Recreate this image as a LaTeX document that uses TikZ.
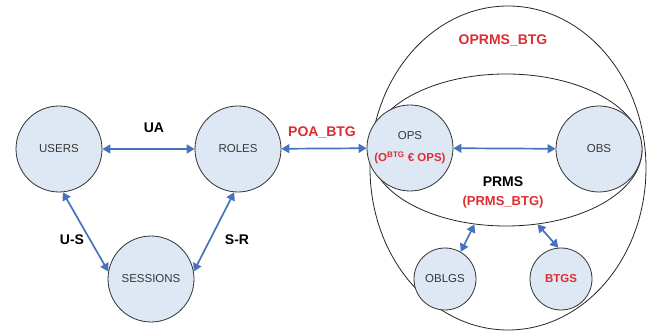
\documentclass[tikz,border=0pt]{standalone}
\usepackage{fontspec}
\setmainfont{Liberation Sans}
\usetikzlibrary{arrows.meta,shapes.geometric}
\definecolor{linkblue}{RGB}{70,115,190}
\definecolor{entfill}{RGB}{222,231,244}
\definecolor{btgred}{RGB}{222,45,50}
\definecolor{enttext}{RGB}{55,55,55}
\begin{document}
\begin{tikzpicture}[x=1pt,y=-1pt,
  ent/.style={circle,draw=black!80,line width=.8pt,fill=entfill,inner sep=0pt,
    minimum size=86pt,text=enttext,font=\fontsize{11.5}{13}\selectfont},
  subent/.style={ent,minimum size=62pt},
  set/.style={ellipse,draw=black!85,line width=.8pt,inner sep=0pt},
  link/.style={linkblue,line width=1.7pt,{Triangle[width=9pt,length=8pt]}-{Triangle[width=9pt,length=8pt]}},
  lbl/.style={font=\bfseries\fontsize{14}{16}\selectfont},
  redlbl/.style={lbl,text=btgred}]
\useasboundingbox (0,0) rectangle (654,331);
\node[set,minimum width=276pt,minimum height=324pt] (oprms) at (508,168) {};
\node[set,minimum width=272pt,minimum height=152pt] (prms) at (506,150) {};
\node[ent] (users) at (59,149) {USERS};
\node[ent] (roles) at (238,149) {ROLES};
\node[ent] (sessions) at (151,279) {SESSIONS};
\node[ent,align=center] (ops) at (410,148) {OPS\\[9pt]{\color{btgred}\bfseries\fontsize{11.5}{13}\selectfont(O\textsuperscript{BTG} € OPS)}};
\node[ent] (obs) at (599,149) {OBS};
\node[subent] (oblgs) at (445,279) {OBLGS};
\node[subent,font=\bfseries\fontsize{11.5}{13}\selectfont,text=btgred] (btgs) at (561,279) {BTGS};
\draw[link] (users) -- (roles);
\draw[link] (roles) -- (ops);
\draw[link] (ops) -- (obs);
\draw[link] (users.-85) -- (sessions.170);
\draw[link] (sessions.10) -- (roles.-95);
\draw[link] (oblgs.60) -- (prms.-113);
\draw[link] (btgs.95) -- (prms.-67);
\node[lbl] (ua) at (154,128) {UA};
\node[redlbl] (poa) at (322,132) {POA\_BTG};
\node[lbl] (us) at (72,240) {U-S};
\node[lbl] (sr) at (237,240) {S-R};
\node[redlbl] (oprmslbl) at (503,40) {OPRMS\_BTG};
\node[lbl,align=center] (prmslbl) at (503,192) {PRMS\\[3pt]{\color{btgred}\fontsize{13}{15}\selectfont(PRMS\_BTG)}};
\end{tikzpicture}
\end{document}
